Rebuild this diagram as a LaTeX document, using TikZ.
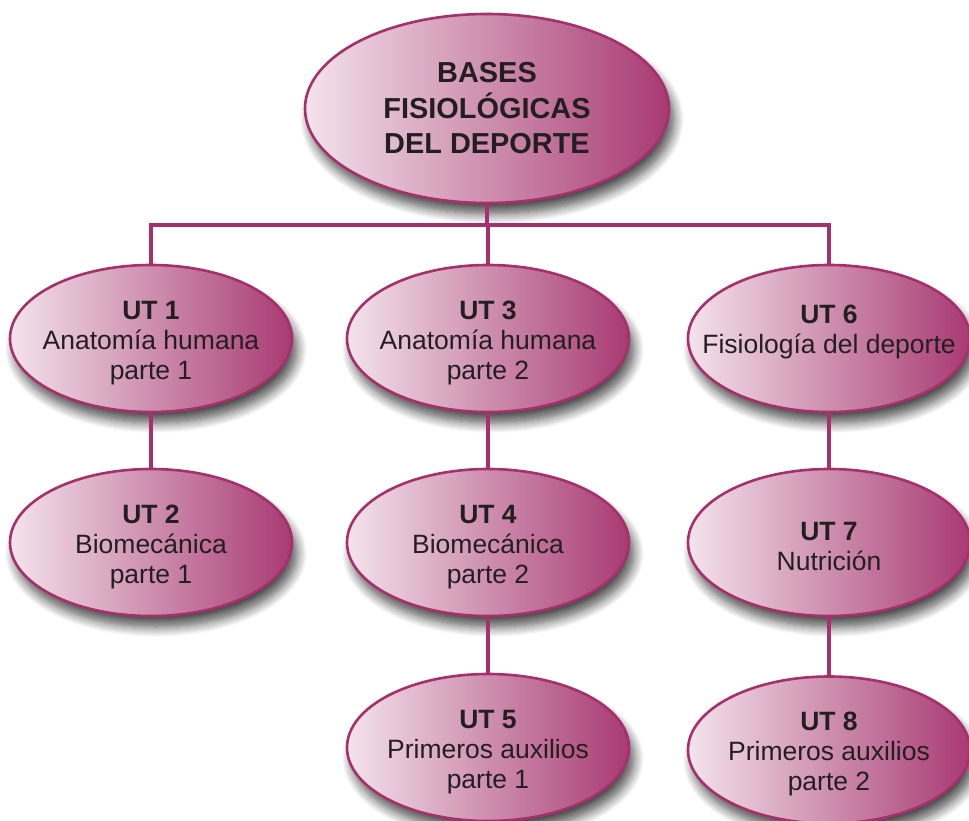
\documentclass[tikz,border=0pt]{standalone}
\usepackage{fontspec}
\setmainfont{Liberation Sans}
\usetikzlibrary{shapes.geometric,shadows.blur}
\definecolor{pinklight}{HTML}{F4E3EC}
\definecolor{pinkdark}{HTML}{A83A72}
\definecolor{pinkline}{HTML}{A5306C}
\definecolor{txt}{HTML}{231F20}
\newcommand\toplift{\rule{0pt}{27pt}}
\tikzset{
  bubble/.style={ellipse, draw=pinkline, line width=2.6pt, left color=pinklight, right color=pinkdark,
    inner ysep=0pt, inner xsep=-45pt, minimum width=282pt, minimum height=147pt, align=center, text=txt,
    font=\fontsize{26.5}{30}\selectfont,
    blur shadow={shadow xshift=5pt, shadow yshift=-11pt, shadow blur steps=10, shadow opacity=70, shadow blur radius=10pt}},
  topbubble/.style={bubble, inner xsep=0pt, minimum width=364pt, minimum height=189pt, font=\bfseries\fontsize{28.9}{35.5}\selectfont},
  link/.style={draw=pinkline, line width=3.2pt}
}
\begin{document}
\begin{tikzpicture}[x=1pt,y=-1pt]
\useasboundingbox (0,0) rectangle (969,821);
\clip (0,0) rectangle (969,821);
\coordinate (j) at (487,225);
\node[topbubble] (top) at (487,108.5) {BASES\\FISIOLÓGICAS\\DEL DEPORTE};
\node[bubble] (ut1) at (151,338.5) {\toplift\textbf{UT 1}\\Anatomía humana\\parte 1};
\node[bubble] (ut3) at (488,338.5) {\toplift\textbf{UT 3}\\Anatomía humana\\parte 2};
\node[bubble] (ut6) at (829,338.5) {\toplift\textbf{UT 6}\\Fisiología del deporte\\[-12pt]\strut};
\node[bubble] (ut2) at (151,542.5) {\toplift\textbf{UT 2}\\Biomecánica\\parte 1};
\node[bubble] (ut4) at (488,542.5) {\toplift\textbf{UT 4}\\Biomecánica\\parte 2};
\node[bubble] (ut7) at (829,542.5) {\toplift\textbf{UT 7}\\Nutrición};
\node[bubble] (ut5) at (488,747.5) {\toplift\textbf{UT 5}\\Primeros auxilios\\parte 1};
\node[bubble] (ut8) at (829,750) {\toplift\textbf{UT 8}\\Primeros auxilios\\parte 2};
\draw[link] (ut1.north) |- (j) -| (ut6.north);
\draw[link] (top.south) -- (top.south |- j);
\draw[link] (ut3.north |- j) -- (ut3.north);
\draw[link] (ut1.south) -- (ut2.north);
\draw[link] (ut3.south) -- (ut4.north);
\draw[link] (ut4.south) -- (ut5.north);
\draw[link] (ut6.south) -- (ut7.north);
\draw[link] (ut7.south) -- (ut8.north);
\end{tikzpicture}
\end{document}
